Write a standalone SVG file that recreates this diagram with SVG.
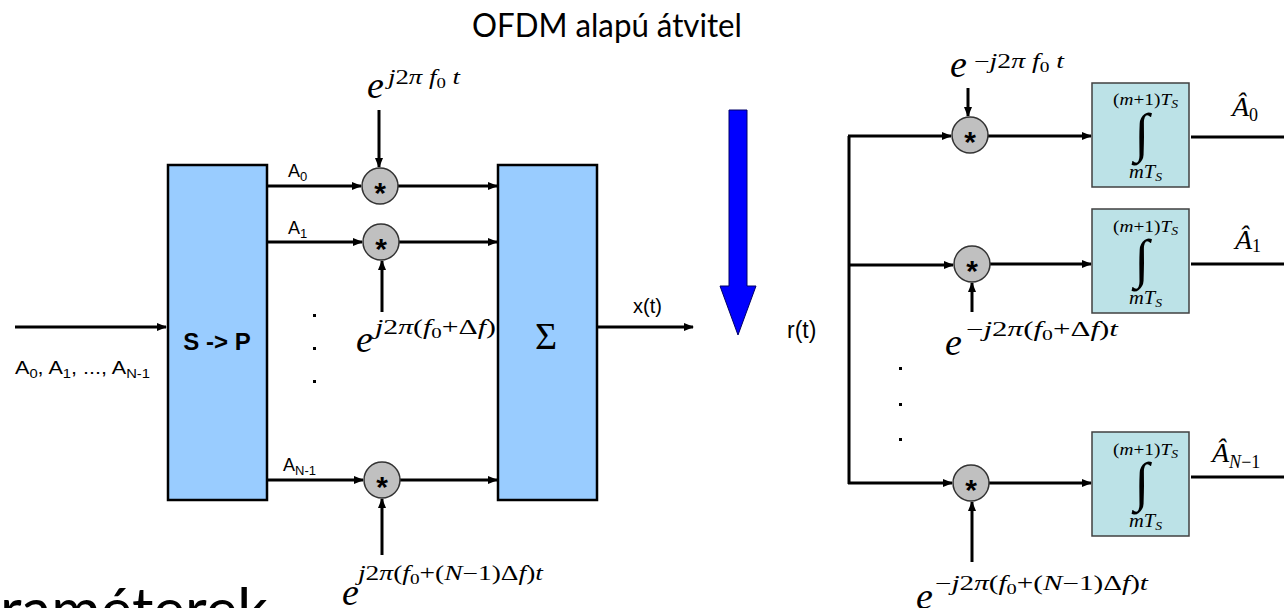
<svg xmlns="http://www.w3.org/2000/svg" width="1284" height="608" viewBox="0 0 1284 608">
<style>
.blk{fill:#99CCFF;stroke:#000;stroke-width:2.5}
.int{fill:#BCE2E7;stroke:#404040;stroke-width:1.5}
.mul{fill:#C0C0C0;stroke:#333;stroke-width:1.5}
.ln{fill:none;stroke:#000;stroke-width:3}
.sans{font-family:"Liberation Sans",Arial,sans-serif;fill:#000}
.ser{font-family:"Liberation Serif","Times New Roman",serif;fill:#000}
.it{font-style:italic}
.u{font-style:normal}
.ee{font-family:"Liberation Serif","Times New Roman",serif;font-style:italic;font-size:38px}
.ex{font-family:"Liberation Serif","Times New Roman",serif;font-style:italic;font-size:20px}
.sb{font-size:14px;font-style:normal}
.ttl{font-family:Lato,"Open Sans",sans-serif;fill:#000}
.star{font-family:"Liberation Sans",Arial,sans-serif;font-weight:bold;font-size:30px;text-anchor:middle}
</style>
<defs>
<marker id="ah" markerWidth="10" markerHeight="8" refX="9" refY="4" orient="auto" markerUnits="userSpaceOnUse"><path d="M0,0 L10,4 L0,8 z" fill="#000"/></marker>
</defs>
<rect width="1284" height="608" fill="#fff"/>

<text id="title" class="ttl" x="472" y="37" font-size="32" textLength="270" lengthAdjust="spacingAndGlyphs">OFDM alapú átvitel</text>
<text id="bottomtext" class="ttl" x="0" y="631" font-size="60">raméterek</text>

<g id="connectors">
<path class="ln" d="M15,327 H166" marker-end="url(#ah)"/>
<path class="ln" d="M267,186 H361" marker-end="url(#ah)"/>
<path class="ln" d="M267,242 H362" marker-end="url(#ah)"/>
<path class="ln" d="M267,480 H363" marker-end="url(#ah)"/>
<path class="ln" d="M398,186 H497" marker-end="url(#ah)"/>
<path class="ln" d="M399,242 H497" marker-end="url(#ah)"/>
<path class="ln" d="M400,480 H497" marker-end="url(#ah)"/>
<path class="ln" d="M379,110 V167" marker-end="url(#ah)"/>
<path class="ln" d="M382,312 V261" marker-end="url(#ah)"/>
<path class="ln" d="M382,555 V499" marker-end="url(#ah)"/>
<path class="ln" d="M597,327 H693" marker-end="url(#ah)"/>
<path class="ln" d="M849,136 V484"/>
<path class="ln" d="M848,136 H951" marker-end="url(#ah)"/>
<path class="ln" d="M849,265 H953" marker-end="url(#ah)"/>
<path class="ln" d="M848,483 H952" marker-end="url(#ah)"/>
<path class="ln" d="M968,88 V116" marker-end="url(#ah)"/>
<path class="ln" d="M972,312 V283" marker-end="url(#ah)"/>
<path class="ln" d="M972,562 V502" marker-end="url(#ah)"/>
<path class="ln" d="M988,136 H1091" marker-end="url(#ah)"/>
<path class="ln" d="M990,264 H1091" marker-end="url(#ah)"/>
<path class="ln" d="M989,483 H1091" marker-end="url(#ah)"/>
<path class="ln" d="M1191,137 H1284"/>
<path class="ln" d="M1191,264 H1284"/>
<path class="ln" d="M1191,477 H1284"/>
</g>

<g id="input-label"><text class="sans" x="15" y="374" font-size="19" textLength="135" lengthAdjust="spacingAndGlyphs">A<tspan font-size="13" dy="4">0</tspan><tspan dy="-4">, A</tspan><tspan font-size="13" dy="4">1</tspan><tspan dy="-4">, ..., A</tspan><tspan font-size="13" dy="4">N-1</tspan></text></g>

<g id="sp"><rect class="blk" x="168" y="165" width="99" height="335"/><text class="sans" x="217" y="350" font-size="24" font-weight="bold" text-anchor="middle">S -&gt; P</text></g>

<g id="a-labels">
<text class="sans" x="288" y="177" font-size="18">A<tspan font-size="13" dy="4">0</tspan></text>
<text class="sans" x="288" y="234" font-size="18">A<tspan font-size="13" dy="4">1</tspan></text>
<text class="sans" x="283" y="471" font-size="18">A<tspan font-size="13" dy="4">N-1</tspan></text>
<g fill="#000"><rect x="313" y="314" width="3" height="3"/><rect x="313" y="347" width="3" height="3"/><rect x="313" y="380" width="3" height="3"/></g>
</g>

<g id="mul-tx0"><circle class="mul" cx="380" cy="186" r="18"/><text class="star" x="380" y="203">*</text></g>
<g id="mul-tx1"><circle class="mul" cx="381" cy="242" r="18"/><text class="star" x="381" y="259">*</text></g>
<g id="mul-txN"><circle class="mul" cx="382" cy="480" r="18"/><text class="star" x="382" y="497">*</text></g>

<g id="exp-tx0"><text class="ee" x="367" y="98">e</text><text class="ex" x="388" y="84" textLength="72" lengthAdjust="spacingAndGlyphs">j<tspan class="u">2</tspan>π f<tspan class="sb" dy="4">0</tspan><tspan dy="-4"> t</tspan></text></g>
<g id="exp-tx1"><text class="ee" x="356" y="352">e</text><text class="ex" x="375" y="334" textLength="121" lengthAdjust="spacingAndGlyphs">j<tspan class="u">2</tspan>π<tspan class="u">(</tspan>f<tspan class="sb" dy="4">0</tspan><tspan class="u" dy="-4">+Δ</tspan>f<tspan class="u">)</tspan></text></g>
<g id="exp-txN"><text class="ee" x="342" y="605">e</text><text class="ex" x="358" y="580" textLength="185" lengthAdjust="spacingAndGlyphs">j<tspan class="u">2</tspan>π<tspan class="u">(</tspan>f<tspan class="sb" dy="4">0</tspan><tspan class="u" dy="-4">+(</tspan>N<tspan class="u">−1)Δ</tspan>f<tspan class="u">)</tspan>t</text></g>

<g id="sum"><rect class="blk" x="498" y="165" width="99" height="335"/><text class="ser" x="546" y="349" font-size="38" text-anchor="middle">Σ</text></g>
<g id="xt"><text class="sans" x="633" y="313" font-size="20">x(t)</text></g>

<g id="channel"><path d="M729,110 H747 V286 H756 L738,335 L720,286 H729 Z" fill="#0000FF" stroke="#000066" stroke-width="1"/></g>

<g id="rt"><text class="sans" x="787" y="338" font-size="23">r(t)</text></g>

<g id="mul-rx0"><circle class="mul" cx="970" cy="135" r="18"/><text class="star" x="970" y="152">*</text></g>
<g id="mul-rx1"><circle class="mul" cx="972" cy="264" r="18"/><text class="star" x="972" y="281">*</text></g>
<g id="mul-rxN"><circle class="mul" cx="971" cy="483" r="18"/><text class="star" x="971" y="500">*</text></g>

<g id="exp-rx0"><text class="ee" x="950" y="77">e</text><text class="ex" x="974" y="68" textLength="90" lengthAdjust="spacingAndGlyphs"><tspan class="u">−</tspan>j<tspan class="u">2</tspan>π f<tspan class="sb" dy="4">0</tspan><tspan dy="-4"> t</tspan></text></g>
<g id="exp-rx1"><text class="ee" x="945" y="355">e</text><text class="ex" x="966" y="336" textLength="152" lengthAdjust="spacingAndGlyphs"><tspan class="u">−</tspan>j<tspan class="u">2</tspan>π<tspan class="u">(</tspan>f<tspan class="sb" dy="4">0</tspan><tspan class="u" dy="-4">+Δ</tspan>f<tspan class="u">)</tspan>t</text></g>
<g id="exp-rxN"><text class="ee" x="916" y="609">e</text><text class="ex" x="935" y="590" textLength="213" lengthAdjust="spacingAndGlyphs"><tspan class="u">−</tspan>j<tspan class="u">2</tspan>π<tspan class="u">(</tspan>f<tspan class="sb" dy="4">0</tspan><tspan class="u" dy="-4">+(</tspan>N<tspan class="u">−1)Δ</tspan>f<tspan class="u">)</tspan>t</text></g>
<g fill="#000"><rect x="899" y="367" width="3" height="3"/><rect x="899" y="403" width="3" height="3"/><rect x="899" y="438" width="3" height="3"/></g>

<g id="int0"><rect class="int" x="1092" y="83" width="97" height="104"/>
<text class="ser it" x="1113" y="105" font-size="17" textLength="65" lengthAdjust="spacingAndGlyphs"><tspan class="u">(</tspan>m<tspan class="u">+1)</tspan>T<tspan font-size="12" dy="3">S</tspan></text>
<text class="ser" x="1142" y="151" font-size="54" text-anchor="middle">∫</text>
<text class="ser it" x="1129" y="178" font-size="18" textLength="33" lengthAdjust="spacingAndGlyphs">mT<tspan font-size="12" dy="3">S</tspan></text></g>
<g id="int1"><rect class="int" x="1092" y="209" width="97" height="104"/>
<text class="ser it" x="1113" y="232" font-size="17" textLength="65" lengthAdjust="spacingAndGlyphs"><tspan class="u">(</tspan>m<tspan class="u">+1)</tspan>T<tspan font-size="12" dy="3">S</tspan></text>
<text class="ser" x="1142" y="277" font-size="54" text-anchor="middle">∫</text>
<text class="ser it" x="1129" y="304" font-size="18" textLength="33" lengthAdjust="spacingAndGlyphs">mT<tspan font-size="12" dy="3">S</tspan></text></g>
<g id="intN"><rect class="int" x="1092" y="432" width="97" height="104"/>
<text class="ser it" x="1113" y="455" font-size="17" textLength="65" lengthAdjust="spacingAndGlyphs"><tspan class="u">(</tspan>m<tspan class="u">+1)</tspan>T<tspan font-size="12" dy="3">S</tspan></text>
<text class="ser" x="1142" y="500" font-size="54" text-anchor="middle">∫</text>
<text class="ser it" x="1129" y="527" font-size="18" textLength="33" lengthAdjust="spacingAndGlyphs">mT<tspan font-size="12" dy="3">S</tspan></text></g>

<g id="out0"><text class="ser it" x="1232" y="116" font-size="28">Â<tspan class="u" font-size="18" dy="5">0</tspan></text></g>
<g id="out1"><text class="ser it" x="1235" y="249" font-size="28">Â<tspan class="u" font-size="18" dy="3">1</tspan></text></g>
<g id="outN"><text class="ser it" x="1212" y="462" font-size="28">Â<tspan font-size="18" dy="6">N<tspan class="u">−1</tspan></tspan></text></g>
</svg>
